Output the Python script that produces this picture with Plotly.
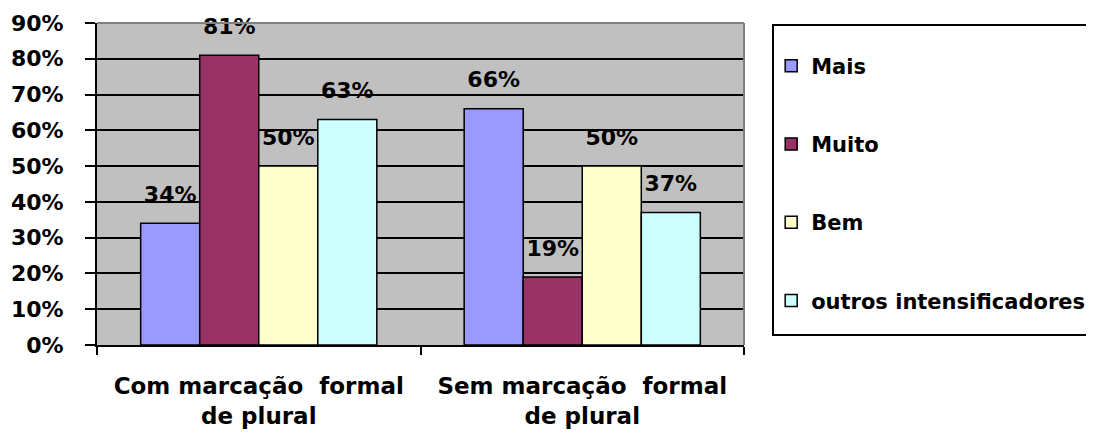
import plotly.graph_objects as go

categories = ["Com marcação\u00a0 formal<br>de plural", "Sem marcação\u00a0 formal<br>de plural"]
series_names = ["Mais", "Muito", "Bem", "outros intensificadores"]
mais = [34, 66]
muito = [81, 19]
bem = [50, 50]
outros = [63, 37]
colors = ["#9999FF", "#993366", "#FFFFCC", "#CCFFFF"]
y_ticks = [0, 10, 20, 30, 40, 50, 60, 70, 80, 90]

values = [mais, muito, bem, outros]

fig = go.Figure()
for i, (name, vals) in enumerate(zip(series_names, values)):
    fig.add_trace(go.Bar(
        x=categories, y=[v / 100 for v in vals], name=name,
        marker=dict(color=colors[i], line=dict(color="black", width=1.5)),
        legendgroup=name, hoverinfo="skip",
    ))
for i, (name, vals) in enumerate(zip(series_names, values)):
    fig.add_trace(go.Scatter(
        x=categories, y=[v / 100 for v in vals], mode="markers+text",
        text=[f"{v}%" for v in vals], textposition="top center",
        textfont=dict(family="DejaVu Sans", size=22, color="black", weight="bold"),
        marker=dict(size=24, opacity=0), showlegend=False, hoverinfo="skip",
        cliponaxis=False,
    ))

fig.update_layout(
    width=1094, height=434,
    margin=dict(l=89, r=358, t=15, b=97, autoexpand=False),
    paper_bgcolor="white", plot_bgcolor="#C0C0C0",
    barmode="group", bargap=0.27, bargroupgap=0,
    scattermode="group", scattergap=0.27,
    showlegend=True,
    legend=dict(
        x=1.042, y=0.93, xanchor="left", yanchor="top",
        font=dict(family="DejaVu Sans", size=21, color="black", weight="bold"),
        tracegroupgap=48, bgcolor="rgba(0,0,0,0)",
    ),
    shapes=[
        dict(type="rect", xref="paper", yref="paper", x0=1.0448, x1=1.55, y0=0.031, y1=0.994,
             line=dict(color="black", width=2)),
        dict(type="line", xref="paper", yref="paper", x0=0, x1=1, y0=1, y1=1,
             line=dict(color="#808080", width=2)),
        dict(type="line", xref="paper", yref="paper", x0=1, x1=1, y0=0, y1=1,
             line=dict(color="#808080", width=2)),
    ],
)
fig.update_yaxes(
    automargin=False,
    range=[0, 0.9], tickvals=[t / 100 for t in y_ticks], tickformat=".0%",
    showgrid=True, gridcolor="black", gridwidth=2,
    showline=True, linecolor="black", linewidth=2,
    ticks="outside", ticklen=10, tickwidth=2, tickcolor="black",
    ticklabelstandoff=17,
    tickfont=dict(family="DejaVu Sans", size=22, color="black", weight="bold"),
    zeroline=False,
)
fig.update_xaxes(
    automargin=False,
    showline=True, linecolor="black", linewidth=2,
    ticks="outside", tickson="boundaries", ticklen=8, tickwidth=2, tickcolor="black",
    ticklabelstandoff=19,
    tickfont=dict(family="DejaVu Sans", size=23, color="black", weight="bold"),
)

fig.write_html("out.html")
